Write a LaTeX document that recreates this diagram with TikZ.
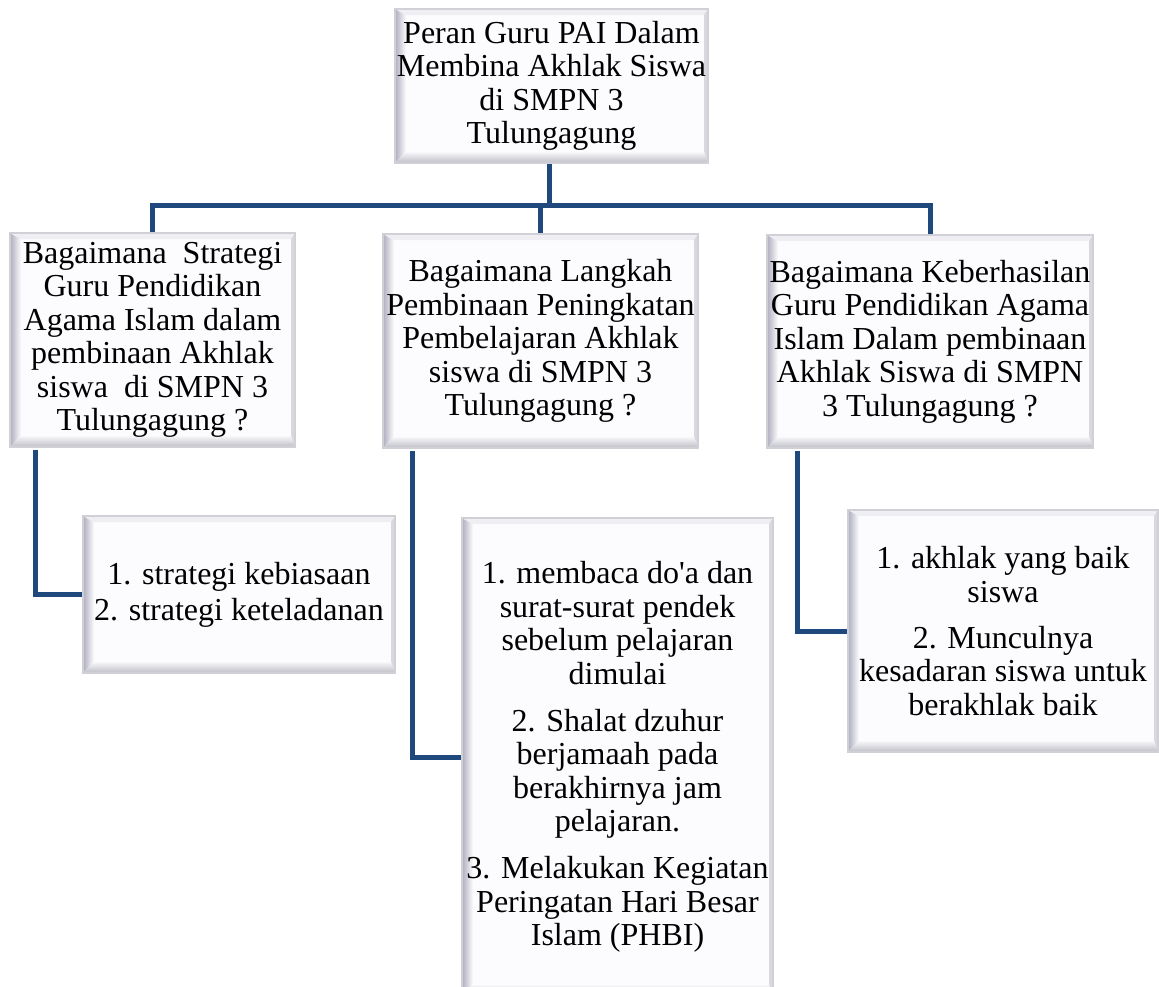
\documentclass[tikz,border=0pt]{standalone}
\usepackage{fontspec}
\setmainfont{Liberation Serif}[Ligatures=TeXOff]
\definecolor{conncol}{HTML}{1F497D}
\definecolor{bevelline}{HTML}{D0D0D6}
\definecolor{bevelface}{HTML}{FCFCFE}
\definecolor{bevelL}{HTML}{AEAEBE}
\definecolor{bevelB}{HTML}{BDBDC6}
\definecolor{bevelT}{HTML}{EFEFF3}
\definecolor{bevelR}{HTML}{D8D8DF}
\tikzset{
  bevelbox/.style={rectangle, draw=bevelline, line width=1.5pt, fill=bevelface,
    inner sep=0pt, align=center, font=\fontsize{32}{33.5}\selectfont,
    path picture={
      \path (path picture bounding box.north west) coordinate (pNW)
            (path picture bounding box.south east) coordinate (pSE)
            (path picture bounding box.north east) coordinate (pNE)
            (path picture bounding box.south west) coordinate (pSW);
      \shade[left color=bevelL, right color=bevelface]
        (pNW) -- (pSW) -- ([shift={(11pt,12pt)}]pSW) -- ([shift={(11pt,-6pt)}]pNW) -- cycle;
      \shade[bottom color=bevelB, top color=bevelface]
        (pSW) -- (pSE) -- ([shift={(-4pt,12pt)}]pSE) -- ([shift={(11pt,12pt)}]pSW) -- cycle;
      \fill[bevelT]
        (pNW) -- (pNE) -- ([shift={(-4pt,-6pt)}]pNE) -- ([shift={(11pt,-6pt)}]pNW) -- cycle;
      \fill[bevelR]
        (pNE) -- (pSE) -- ([shift={(-4pt,12pt)}]pSE) -- ([shift={(-4pt,-6pt)}]pNE) -- cycle;
    }},
  conn/.style={draw=conncol, line width=5pt, line join=miter, line cap=butt}
}
\begin{document}
\begin{tikzpicture}[x=1pt,y=-1pt]
\clip (0,0) rectangle (1159,986);
\fill[white] (0,0) rectangle (1159,986);

\node[bevelbox, minimum width=313pt, minimum height=154pt] (top) at (551.5,86)
  {Peran Guru PAI Dalam\\Membina Akhlak Siswa\\di SMPN 3\\Tulungagung};

\node[bevelbox, minimum width=285pt, minimum height=214pt] (b1) at (152.5,340)
  {Bagaimana~~Strategi\\Guru Pendidikan\\Agama Islam dalam\\pembinaan Akhlak\\siswa~~di SMPN 3\\Tulungagung ?};
\node[bevelbox, minimum width=315pt, minimum height=214pt] (b2) at (540.5,341)
  {Bagaimana Langkah\\Pembinaan Peningkatan\\Pembelajaran Akhlak\\siswa di SMPN 3\\Tulungagung ?};
\node[bevelbox, minimum width=326pt, minimum height=213pt] (b3) at (930,341.5)
  {Bagaimana Keberhasilan\\Guru Pendidikan Agama\\Islam Dalam pembinaan\\Akhlak Siswa di SMPN\\3 Tulungagung ?};

\node[bevelbox, minimum width=312pt, minimum height=157pt] (c1) at (239,594.5)
  {1. strategi kebiasaan\\[2.5pt]2. strategi keteladanan};
\node[bevelbox, minimum width=311pt, minimum height=478pt] (c2) at (617.5,757)
  {1. membaca do'a dan\\surat-surat pendek\\sebelum pelajaran\\dimulai\\[13.5pt]2. Shalat dzuhur\\berjamaah pada\\berakhirnya jam\\pelajaran.\\[13.5pt]3. Melakukan Kegiatan\\Peringatan Hari Besar\\Islam (PHBI)};
\node[bevelbox, minimum width=310pt, minimum height=242pt] (c3) at (1003,631)
  {1. akhlak yang baik\\siswa\\[12.5pt]2. Munculnya\\kesadaran siswa untuk\\berakhlak baik};

\coordinate (bus) at (549,205);
\draw[conn] ([xshift=-2.5pt]top.south) -- ([xshift=-2.5pt]top.south |- bus);
\draw[conn] (b1.north) |- (bus) -| (b3.north);
\draw[conn] (b2.north) -- (b2.north |- bus);

\draw[conn] ([xshift=26pt,yshift=-2pt]b1.south west) |- (c1.west);
\draw[conn] ([xshift=30pt,yshift=-2pt]b2.south west) |- (c2.west);
\draw[conn] ([xshift=31pt,yshift=-2pt]b3.south west) |- (c3.west);
\end{tikzpicture}
\end{document}
